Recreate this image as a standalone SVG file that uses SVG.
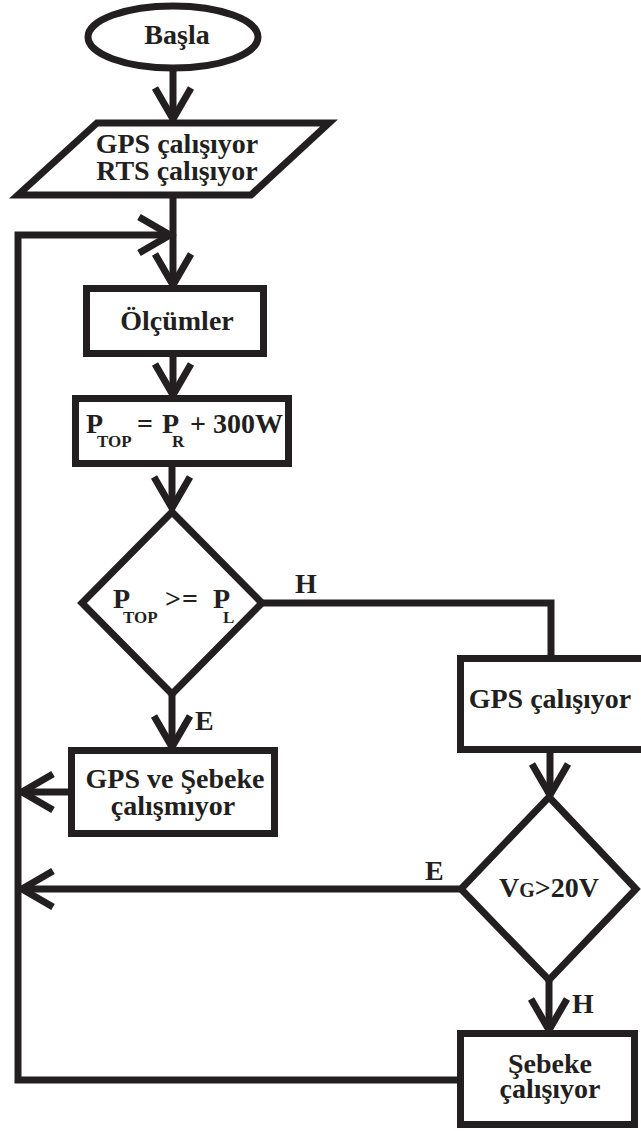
<svg xmlns="http://www.w3.org/2000/svg" width="641" height="1131" viewBox="0 0 641 1131" font-family="'Liberation Serif', 'DejaVu Serif', serif">
  <style>
    .shape { fill: #ffffff; stroke: #231f20; stroke-width: 7; stroke-linejoin: miter; }
    .line { fill: none; stroke: #231f20; stroke-width: 7; stroke-linejoin: miter; }
    .arrow { marker-end: url(#head); }
    .t { font-family: 'Liberation Serif', 'DejaVu Serif', serif; font-weight: bold; fill: #231f20; font-size: 28px; }
    .mid { text-anchor: middle; }
    .sub { font-size: 17px; }
  </style>
  <defs>
    <marker id="head" markerUnits="userSpaceOnUse" orient="auto" overflow="visible" markerWidth="1" markerHeight="1" refX="0" refY="0">
      <path d="M-31,-18 L0,0 L-31,18" fill="none" stroke="#231f20" stroke-width="7"/>
    </marker>
  </defs>
  <rect width="641" height="1131" fill="#ffffff"/>

  <!-- connectors and their branch labels -->
  <g id="connectors">
    <line class="line arrow" x1="173" y1="71" x2="173" y2="119"/>
    <line class="line arrow" x1="173" y1="198" x2="173" y2="285"/>
    <line class="line arrow" x1="173" y1="357" x2="173" y2="395"/>
    <line class="line arrow" x1="172" y1="467" x2="172" y2="508"/>
    <line class="line arrow" x1="172" y1="694" x2="172" y2="747"/>
    <polyline class="line" points="262,603 551,603 551,656"/>
    <line class="line arrow" x1="550" y1="753" x2="550" y2="795"/>
    <line class="line arrow" x1="461" y1="889" x2="22" y2="889"/>
    <line class="line arrow" x1="549" y1="980" x2="549" y2="1030"/>
    <line class="line arrow" x1="68" y1="792" x2="22" y2="792"/>
    <polyline class="line arrow" points="458,1080 18,1080 18,235 170,235"/>
    <text class="t" x="295" y="593">H</text>
    <text class="t" x="195" y="730">E</text>
    <text class="t" x="425" y="880">E</text>
    <text class="t" x="572" y="1013">H</text>
  </g>

  <g id="start">
    <ellipse class="shape" cx="173" cy="37" rx="85" ry="31"/>
    <text class="t mid" x="177" y="44">Başla</text>
  </g>

  <g id="input">
    <polygon class="shape" points="97,123 329,123 251,195 18,195"/>
    <text class="t mid" x="177" y="153">GPS çalışıyor</text>
    <text class="t mid" x="177" y="180">RTS çalışıyor</text>
  </g>

  <g id="measure">
    <rect class="shape" x="86.5" y="288.5" width="177" height="65"/>
    <text class="t mid" x="177" y="330">Ölçümler</text>
  </g>

  <g id="total-power">
    <rect class="shape" x="75.5" y="398.5" width="213" height="65"/>
    <text class="t" x="86" y="433">P<tspan class="sub" x="97" y="447">TOP</tspan><tspan x="137" y="433">=</tspan><tspan x="162" y="433">P</tspan><tspan class="sub" x="172" y="447">R</tspan><tspan x="190" y="433">+ 300W</tspan></text>
  </g>

  <g id="check-load">
    <polygon class="shape" points="172,512 262,603 172,694 82,603"/>
    <text class="t" x="113" y="608">P<tspan class="sub" x="123" y="623">TOP</tspan><tspan x="165" y="608">&gt;</tspan><tspan x="182" y="608">=</tspan><tspan x="213" y="608">P</tspan><tspan class="sub" x="223" y="623">L</tspan></text>
  </g>

  <g id="both-off">
    <rect class="shape" x="71.5" y="750.5" width="203" height="83"/>
    <text class="t mid" x="175" y="788">GPS ve Şebeke</text>
    <text class="t mid" x="173" y="815">çalışmıyor</text>
  </g>

  <g id="gps-on">
    <rect class="shape" x="460.5" y="658.5" width="200" height="91"/>
    <text class="t mid" x="550" y="708">GPS çalışıyor</text>
  </g>

  <g id="check-voltage">
    <polygon class="shape" points="549,797 636,889 549,980 461,889"/>
    <text class="t mid" x="549" y="897">V<tspan font-size="20px">G</tspan>&gt;20V</text>
  </g>

  <g id="grid-on">
    <rect class="shape" x="460.5" y="1033.5" width="174" height="91"/>
    <text class="t mid" x="550" y="1073">Şebeke</text>
    <text class="t mid" x="550" y="1098">çalışıyor</text>
  </g>
</svg>
